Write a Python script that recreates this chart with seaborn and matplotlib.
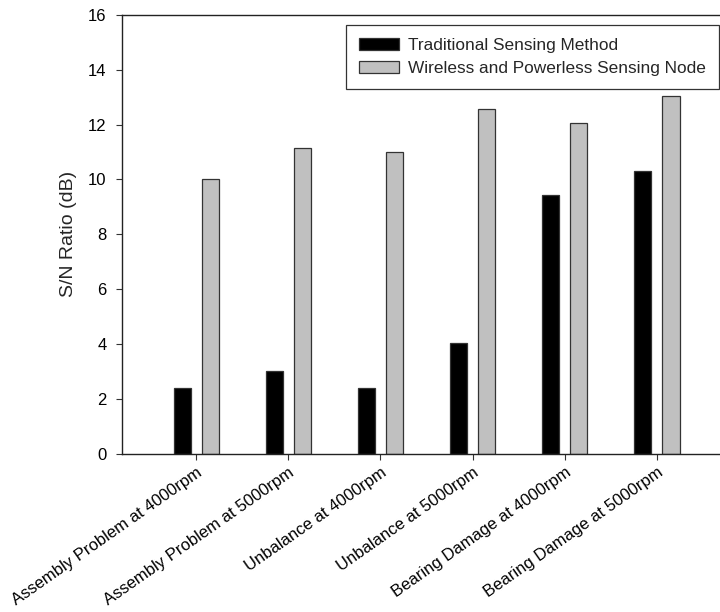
import matplotlib
matplotlib.use("Agg")
import matplotlib.pyplot as plt
from matplotlib.patches import Patch
import seaborn as sns
import pandas as pd

# Fault conditions on the x axis
conditions = [
    "Assembly Problem at 4000rpm",
    "Assembly Problem at 5000rpm",
    "Unbalance at 4000rpm",
    "Unbalance at 5000rpm",
    "Bearing Damage at 4000rpm",
    "Bearing Damage at 5000rpm",
]

# S/N ratio (dB) for each sensing approach
traditional = [2.4, 3.0, 2.4, 4.05, 9.45, 10.3]
wireless = [10.0, 11.15, 11.02, 12.57, 12.05, 13.03]

series_names = ["Traditional Sensing Method", "Wireless and Powerless Sensing Node"]
yticks = [0, 2, 4, 6, 8, 10, 12, 14, 16]

df = pd.DataFrame({
    "Condition": conditions * 2,
    "Method": [series_names[0]] * len(conditions) + [series_names[1]] * len(conditions),
    "SN": traditional + wireless,
})

sns.set_theme(style="white")
plt.rcParams["font.family"] = ["Liberation Sans", "DejaVu Sans"]

fig = plt.figure(figsize=(7.2, 6.12), dpi=100)
ax = fig.add_axes([0.169, 0.2587, 0.831, 0.7168])

palette = {series_names[0]: "#000000", series_names[1]: "#c0c0c0"}
sns.barplot(
    data=df, x="Condition", y="SN", hue="Method", hue_order=series_names,
    order=conditions, palette=palette, width=0.61, gap=0.39,
    edgecolor="#333333", linewidth=0.9, saturation=1, ax=ax, legend=False,
)

ax.set_xlim(-0.808, 5.685)
ax.set_ylim(0, 16)
ax.set_yticks(yticks)
ax.set_yticklabels([str(v) for v in yticks])
ax.set_xlabel("")
ax.set_ylabel("S/N Ratio (dB)", fontsize=14, labelpad=8)

ax.tick_params(axis="both", direction="out", length=4.3, width=0.8,
               color="#333333", labelsize=12, labelcolor="black")
ax.tick_params(axis="y", pad=6.5)
ax.tick_params(axis="x", pad=3.5)
ax.yaxis.set_ticks_position("left")
ax.xaxis.set_ticks_position("bottom")
for lbl in ax.get_xticklabels():
    lbl.set_rotation(35)
    lbl.set_ha("right")
    lbl.set_va("top")
    lbl.set_rotation_mode("anchor")

for side in ["left", "bottom", "top"]:
    ax.spines[side].set_visible(True)
    ax.spines[side].set_color("#222222")
    ax.spines[side].set_linewidth(1.0)
ax.spines["right"].set_visible(False)

handles = [
    Patch(facecolor=palette[n], edgecolor="#333333", linewidth=0.9) for n in series_names
]
leg = ax.legend(
    handles, series_names, loc="upper right", bbox_to_anchor=(0.998, 0.977),
    borderaxespad=0, fontsize=12.4, frameon=True, fancybox=False, framealpha=1,
    edgecolor="#333333", handlelength=2.3, handleheight=0.7, handletextpad=0.55,
    labelspacing=0.45, borderpad=0.75,
)
leg.get_frame().set_linewidth(0.9)

fig.savefig("out.png", dpi=100)
